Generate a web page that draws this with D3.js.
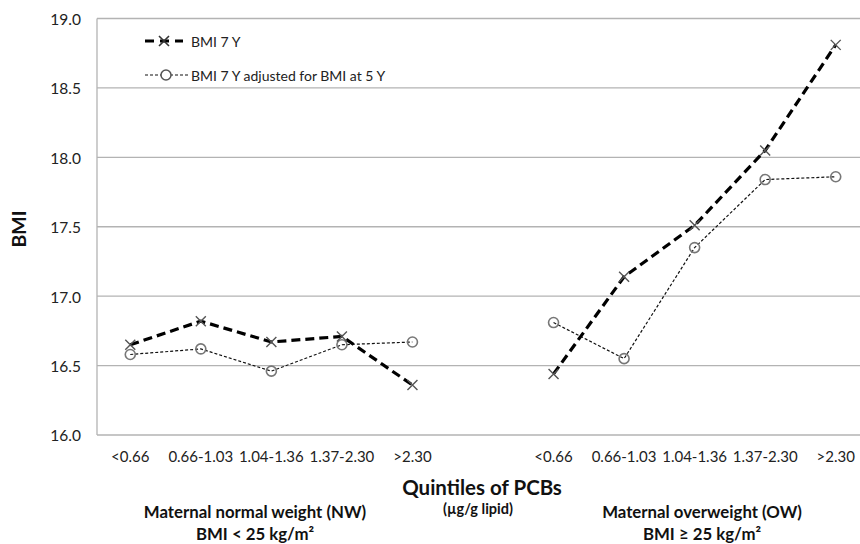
<!DOCTYPE html>
<html>
<head>
<meta charset="utf-8">
<script src="https://cdn.jsdelivr.net/npm/d3@7"></script>
<style>
  body { margin: 0; background: #fff; }
  svg { font-family: Lato, "Open Sans", sans-serif; }
</style>
</head>
<body>
<div id="chart"></div>
<script>
const quintiles = ["<0.66", "0.66-1.03", "1.04-1.36", "1.37-2.30", ">2.30"];
const groups = ["NW", "OW"];
const bmi7 = {
  NW: [16.65, 16.82, 16.67, 16.71, 16.36],
  OW: [16.44, 17.14, 17.51, 18.05, 18.81]
};
const bmi7adj = {
  NW: [16.58, 16.62, 16.46, 16.65, 16.67],
  OW: [16.81, 16.55, 17.35, 17.84, 17.86]
};
const yTicks = [16.0, 16.5, 17.0, 17.5, 18.0, 18.5, 19.0];

const width = 860, height = 544;

// 11 slots: 5 quintiles, one empty gap, 5 quintiles
const slots = [...quintiles.map(q => "NW|" + q), "gap", ...quintiles.map(q => "OW|" + q)];

const x = d3.scaleBand().domain(slots).range([95, 871]);
const cx = key => x(key) + x.bandwidth() / 2;
const y = d3.scaleLinear().domain([16, 19]).range([435, 18.5]);

const svg = d3.select("#chart").append("svg")
  .attr("width", width)
  .attr("height", height);

// gridlines
svg.append("g")
  .selectAll("line")
  .data(yTicks)
  .enter().append("line")
  .attr("x1", 97).attr("x2", width)
  .attr("y1", d => y(d)).attr("y2", d => y(d))
  .attr("stroke", "#b3b3b3")
  .attr("stroke-width", 1.3);

// y axis line
svg.append("line")
  .attr("x1", 97).attr("x2", 97)
  .attr("y1", y(19)).attr("y2", y(16))
  .attr("stroke", "#b3b3b3")
  .attr("stroke-width", 1.3);

// y tick labels
svg.append("g")
  .selectAll("text")
  .data(yTicks)
  .enter().append("text")
  .attr("x", 81)
  .attr("y", d => y(d) + 1)
  .attr("dy", "0.35em")
  .attr("text-anchor", "end")
  .attr("font-size", 15.5)
  .attr("fill", "#222")
  .text(d => d.toFixed(1));

// x tick labels
svg.append("g")
  .selectAll("text")
  .data(slots.filter(s => s !== "gap"))
  .enter().append("text")
  .attr("x", d => cx(d))
  .attr("y", 462)
  .attr("text-anchor", "middle")
  .attr("font-size", 15)
  .attr("fill", "#222")
  .text(d => d.split("|")[1]);

// axis titles
svg.append("text")
  .attr("transform", `translate(26,229) rotate(-90)`)
  .attr("text-anchor", "middle")
  .attr("font-size", 19.5)
  .attr("font-weight", "bold")
  .attr("fill", "#111")
  .text("BMI");

svg.append("text")
  .attr("x", 482).attr("y", 495)
  .attr("text-anchor", "middle")
  .attr("font-size", 20.5)
  .attr("font-weight", "bold")
  .attr("fill", "#111")
  .text("Quintiles of PCBs");

svg.append("text")
  .attr("x", 478).attr("y", 514)
  .attr("text-anchor", "middle")
  .attr("font-size", 14.5)
  .attr("font-weight", "bold")
  .attr("fill", "#111")
  .text("(µg/g lipid)");

const groupLabels = [
  { x: 255, lines: ["Maternal normal weight (NW)", "BMI < 25 kg/m\u00B2"] },
  { x: 702, lines: ["Maternal overweight (OW)", "BMI \u2265 25 kg/m\u00B2"] }
];
groupLabels.forEach(g => {
  g.lines.forEach((t, i) => {
    svg.append("text")
      .attr("x", g.x).attr("y", 518 + i * 22)
      .attr("text-anchor", "middle")
      .attr("font-size", 16.8)
      .attr("font-weight", "bold")
      .attr("fill", "#111")
      .text(t);
  });
});

const line = d3.line().x(d => d.x).y(d => d.y);

function crossPath(px, py, r) {
  return `M${px - r},${py - r}L${px + r},${py + r}M${px - r},${py + r}L${px + r},${py - r}`;
}

groups.forEach(g => {
  const adj = bmi7adj[g].map((v, i) => ({ x: cx(g + "|" + quintiles[i]), y: y(v) }));
  const raw = bmi7[g].map((v, i) => ({ x: cx(g + "|" + quintiles[i]), y: y(v) }));

  svg.append("path")
    .datum(adj)
    .attr("d", line)
    .attr("fill", "none")
    .attr("stroke", "#111")
    .attr("stroke-width", 1.2)
    .attr("stroke-dasharray", "3,2");

  svg.append("g")
    .selectAll("circle")
    .data(adj)
    .enter().append("circle")
    .attr("cx", d => d.x).attr("cy", d => d.y)
    .attr("r", 5)
    .attr("fill", "none")
    .attr("stroke", "#777")
    .attr("stroke-width", 1.6);

  svg.append("path")
    .datum(raw)
    .attr("d", line)
    .attr("fill", "none")
    .attr("stroke", "#000")
    .attr("stroke-width", 3.2)
    .attr("stroke-dasharray", "9,5");

  svg.append("g")
    .selectAll("path")
    .data(raw)
    .enter().append("path")
    .attr("d", d => crossPath(d.x, d.y, 5))
    .attr("stroke", "#555")
    .attr("stroke-width", 1.4);
});

// legend
const legend = svg.append("g");
legend.append("line")
  .attr("x1", 145).attr("x2", 183).attr("y1", 41).attr("y2", 41)
  .attr("stroke", "#000").attr("stroke-width", 3.2).attr("stroke-dasharray", "9,6");
legend.append("path")
  .attr("d", crossPath(164, 41, 5))
  .attr("stroke", "#333").attr("stroke-width", 1.6);
legend.append("text")
  .attr("x", 191).attr("y", 42).attr("dy", "0.35em")
  .attr("font-size", 14).attr("fill", "#222")
  .text("BMI 7 Y");

legend.append("line")
  .attr("x1", 145).attr("x2", 188).attr("y1", 75).attr("y2", 75)
  .attr("stroke", "#111").attr("stroke-width", 1.2).attr("stroke-dasharray", "3,2");
legend.append("circle")
  .attr("cx", 166).attr("cy", 75).attr("r", 5)
  .attr("fill", "#fff").attr("stroke", "#555").attr("stroke-width", 1.5);
legend.append("text")
  .attr("x", 191).attr("y", 76).attr("dy", "0.35em")
  .attr("font-size", 14).attr("fill", "#222")
  .text("BMI 7 Y adjusted for BMI at 5 Y");
</script>
</body>
</html>
